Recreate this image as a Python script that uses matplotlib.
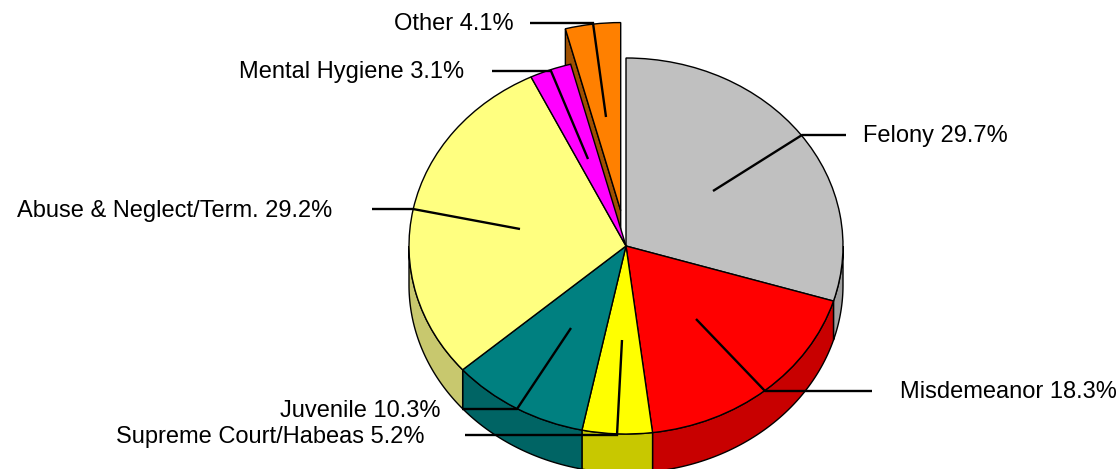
import numpy as np
import matplotlib
matplotlib.use("Agg")
import matplotlib.pyplot as plt

plt.rcParams['font.family'] = ['Liberation Sans', 'DejaVu Sans']

categories = ["Felony", "Misdemeanor", "Supreme Court/Habeas", "Juvenile",
              "Abuse & Neglect/Term.", "Mental Hygiene", "Other"]
values = [29.7, 18.3, 5.2, 10.3, 29.2, 3.1, 4.1]
explode = [0, 0, 0, 0, 0, 0, 0.19]
top_colors = ["#c0c0c0", "#ff0000", "#ffff00", "#008080", "#ffff80", "#ff00ff", "#ff8000"]
side_colors = ["#a0a0a0", "#c80000", "#c8c800", "#006464", "#c8c86e", "#c800c8", "#a05000"]

# pixel layout of the reference
W, H = 1120, 469
CX, CY, RX, RY = 626, 246, 217, 188
DEPTH = 39 / RY

# leader line paths and label anchors, in pixels
leaders = [
    [(713, 191), (802, 135), (846, 135)],
    [(696, 319), (765, 391), (872, 391)],
    [(622, 340), (617, 435), (465, 435)],
    [(571, 328), (517, 409), (462, 409)],
    [(520, 229), (413, 209), (372, 209)],
    [(588, 159), (551, 71), (492, 71)],
    [(606, 117), (593, 23), (530, 23)],
]
label_pos = [(863, 136, "left"), (900, 392, "left"), (424, 437, "right"), (441, 411, "right"),
             (332, 211, "right"), (464, 72, "right"), (514, 24, "right")]


def px(x, y):
    return (x - CX) / RX, (CY - y) / RY


fig = plt.figure(figsize=(W / 100, H / 100), dpi=100)
ax = fig.add_axes([0, 0, 1, 1])

# 3d rim: only the front half of the ellipse shows
bounds = np.concatenate([[0], np.cumsum(values)]) / np.sum(values) * 360
for i in range(len(values)):
    a = max(bounds[i], 90)
    b = min(bounds[i + 1], 270)
    if a >= b:
        continue
    t = np.radians(np.linspace(a, b, 60))
    xs = np.sin(t)
    ys = np.cos(t)
    poly_x = np.concatenate([xs, xs[::-1]])
    poly_y = np.concatenate([ys, ys[::-1] - DEPTH])
    ax.fill(poly_x, poly_y, facecolor=side_colors[i], edgecolor="black", lw=1.0, zorder=1)

# cut face of the pulled out slice
mid = np.radians((bounds[-2] + bounds[-1]) / 2)
ox, oy = explode[-1] * np.sin(mid), explode[-1] * np.cos(mid)
lx, ly = np.sin(np.radians(bounds[-2])) + ox, np.cos(np.radians(bounds[-2])) + oy
ax.fill([lx, lx, ox, ox], [ly, ly - DEPTH, oy - DEPTH, oy], facecolor=side_colors[-1],
        edgecolor="black", lw=1.0, zorder=1)

wedges, _ = ax.pie(values, explode=explode, colors=top_colors, startangle=90, counterclock=False,
                   wedgeprops={"edgecolor": "black", "linewidth": 1.0, "zorder": 2})

ax.set_aspect("auto")
ax.set_xlim(px(0, 0)[0], px(W, 0)[0])
ax.set_ylim(px(0, H)[1], px(0, 0)[1])
ax.axis("off")

for path in leaders:
    pts = [px(*p) for p in path]
    ax.plot([p[0] for p in pts], [p[1] for p in pts], color="black", lw=1.7,
            solid_joinstyle="miter", solid_capstyle="butt", zorder=3)

for cat, val, (x, y, ha) in zip(categories, values, label_pos):
    tx, ty = px(x, y)
    ax.text(tx, ty, f"{cat} {val}%", ha=ha, va="center", fontsize=17, color="black", zorder=4)

fig.savefig("out.png", dpi=100)
